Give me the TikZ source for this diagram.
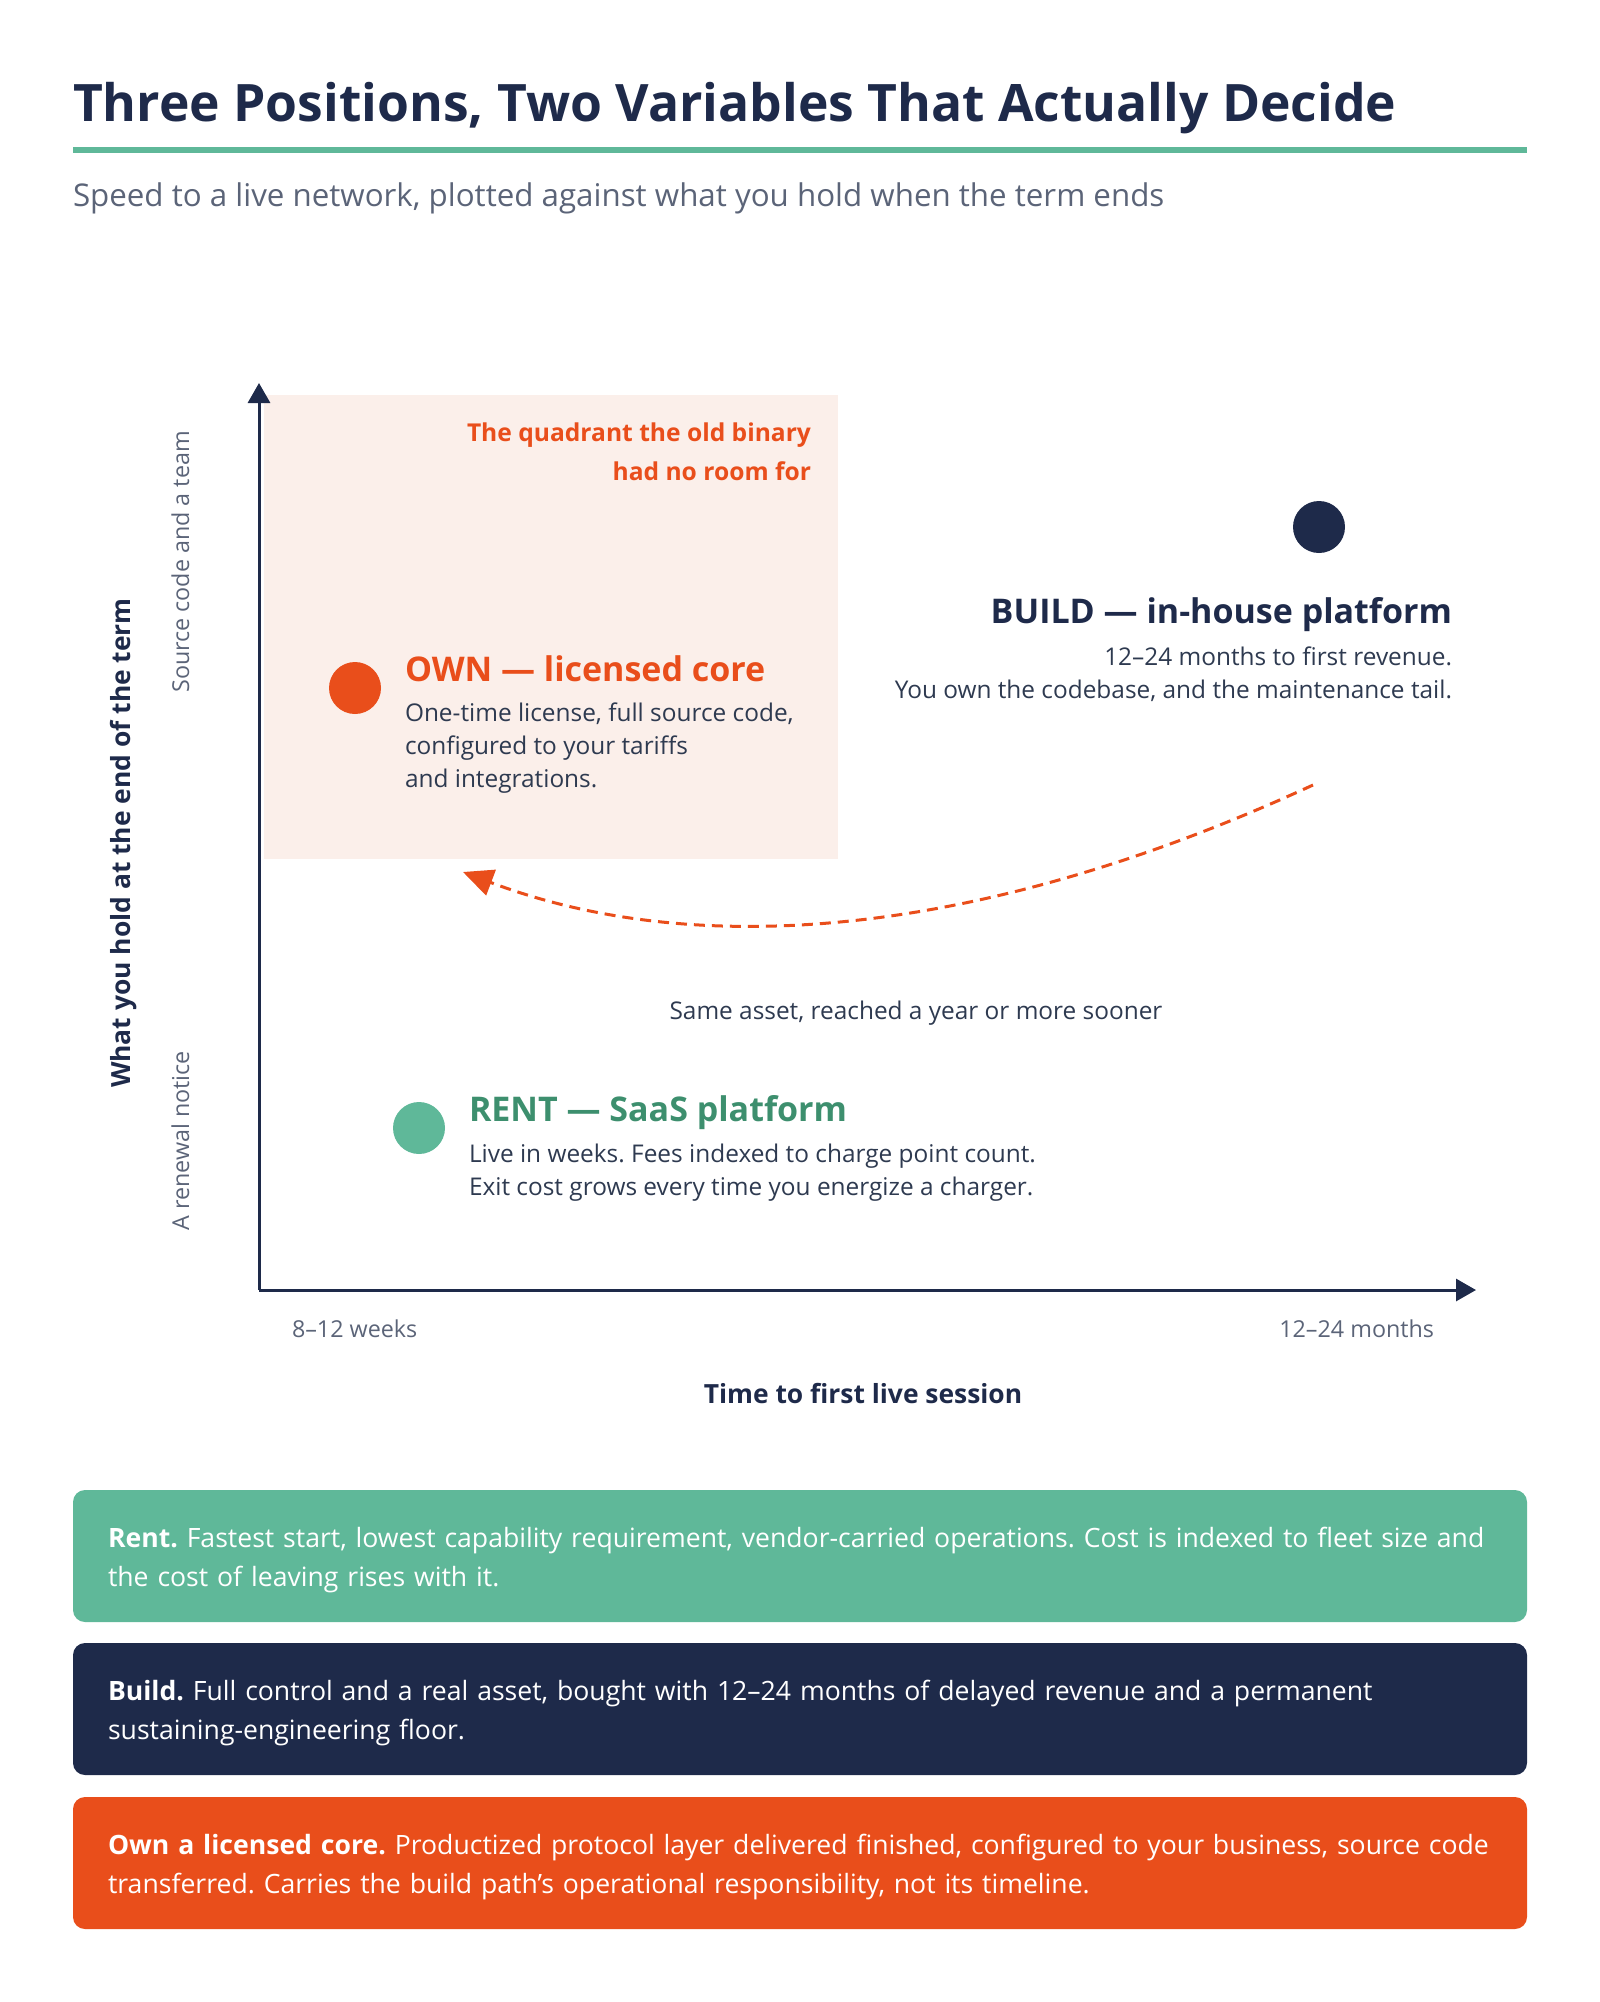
\documentclass[tikz,border=0pt]{standalone}
\usepackage{fontspec}
\setmainfont{Open Sans}
\usetikzlibrary{arrows.meta}

\definecolor{navy}{HTML}{1E2A4A}
\definecolor{ember}{HTML}{E94E1B}
\definecolor{mint}{HTML}{5FB899}
\definecolor{pine}{HTML}{3D8F6E}
\definecolor{peach}{HTML}{FBEFEA}
\definecolor{slate}{HTML}{2E3A50}
\definecolor{mist}{HTML}{5B6478}

\begin{document}
\frenchspacing
\begin{tikzpicture}[x=1pt, y=-1pt,
  every node/.style={inner sep=0pt, outer sep=0pt},
  heading/.style={font=\fontsize{51.6}{56}\selectfont\bfseries, text=navy},
  subline/.style={font=\fontsize{31.3}{35}\selectfont, text=mist},
  pointname/.style={font=\fontsize{34}{38}\selectfont\bfseries},
  body/.style={font=\fontsize{24.4}{33}\selectfont, text=slate, align=left},
  ticklabel/.style={font=\fontsize{23.3}{26}\selectfont, text=mist},
  axisname/.style={font=\fontsize{26.4}{30}\selectfont\bfseries, text=navy},
  dot/.style={circle, minimum size=52pt},
  axis/.style={line width=3pt, draw=navy, -{Triangle[width=22pt,length=20pt]}},
  card/.style={rounded corners=12pt, anchor=north west, minimum width=1454pt,
    minimum height=132pt, text width=1384pt, inner xsep=35pt, align=left,
    text=white, font=\fontsize{26.6}{39.5}\selectfont,
    execute at begin node={\rule{0pt}{28pt}}}]

  \useasboundingbox (0,0) rectangle (1600,2002);

  % header
  \node[heading, anchor=base west] (title) at (73,121)
    {Three Positions, Two Variables That Actually Decide};
  \fill[mint] (73,147) rectangle (1527,153);
  \node[subline, anchor=base west] (sub) at (73,206)
    {Speed to a live network, plotted against what you hold when the term ends};

  % quadrant and axes
  \fill[peach] (264,395) rectangle (838,859);
  \coordinate (origin) at (259,1290);
  \coordinate (ytip) at (259,383);
  \coordinate (xtip) at (1476,1290);
  \draw[axis] (origin) -- (ytip);
  \draw[axis] (origin) -- (xtip);

  \node[font=\fontsize{24.6}{39.3}\selectfont\bfseries, text=ember, align=right,
    anchor=north east] (quadnote) at (811,423)
    {The quadrant the old binary\\had no room for};

  % y axis labels
  \node[axisname, rotate=90] (yname) at (124,843) {What you hold at the end of the term};
  \node[ticklabel, rotate=90, anchor=base] (yhigh) at (189,562) {Source code and a team};
  \node[ticklabel, rotate=90, anchor=base] (ylow) at (189,1141) {A renewal notice};

  % x axis labels
  \node[ticklabel, anchor=base west] (xlow) at (292,1337) {8–12 weeks};
  \node[ticklabel, anchor=base east] (xhigh) at (1434,1337) {12–24 months};
  \node[axisname, anchor=base] (xname) at (863,1403) {Time to first live session};

  % own
  \node[dot, fill=ember] (own) at (355,688) {};
  \node[pointname, text=ember, anchor=base west] (ownname) at (405,681) {OWN — licensed core};
  \node[body, anchor=north west] (owntext) at (405,703)
    {One-time license, full source code,\\configured to your tariffs\\and integrations.};

  % build
  \node[dot, fill=navy] (build) at (1319,527) {};
  \node[pointname, text=navy, anchor=base east] (buildname) at (1452,623) {BUILD — in-house platform};
  \node[body, align=right, anchor=north east] (buildtext) at (1452,647)
    {12–24 months to first revenue.\\You own the codebase, and the maintenance tail.};

  % rent
  \node[dot, fill=mint] (rent) at (419,1128) {};
  \node[pointname, text=pine, anchor=base west] (rentname) at (469,1121) {RENT — SaaS platform};
  \node[body, anchor=north west] (renttext) at (469,1144)
    {Live in weeks. Fees indexed to charge point count.\\Exit cost grows every time you energize a charger.};

  % shift arrow
  \coordinate (shiftfrom) at (1313,785);
  \coordinate (shiftto) at (463,872);
  \draw[ember, line width=3pt, dash pattern=on 11pt off 7pt,
    -{Triangle[width=27pt,length=30pt]}]
    (shiftfrom) .. controls (985,936) and (701,962) .. (shiftto);
  \node[body, anchor=base] (shiftnote) at (916,1019) {Same asset, reached a year or more sooner};

  % summary cards
  \node[card, fill=mint] (rentcard) at (73,1490)
    {\mbox{\textbf{Rent.} Fastest start, lowest capability requirement, vendor-carried operations. Cost is indexed to fleet size and}\\the cost of leaving rises with it.};
  \node[card, fill=navy] (buildcard) at (73,1643)
    {\mbox{\textbf{Build.} Full control and a real asset, bought with 12–24 months of delayed revenue and a permanent}\\sustaining-engineering floor.};
  \node[card, fill=ember] (owncard) at (73,1797)
    {\mbox{\textbf{Own a licensed core.} Productized protocol layer delivered finished, configured to your business, source code}\\transferred. Carries the build path’s operational responsibility, not its timeline.};

\end{tikzpicture}
\end{document}
